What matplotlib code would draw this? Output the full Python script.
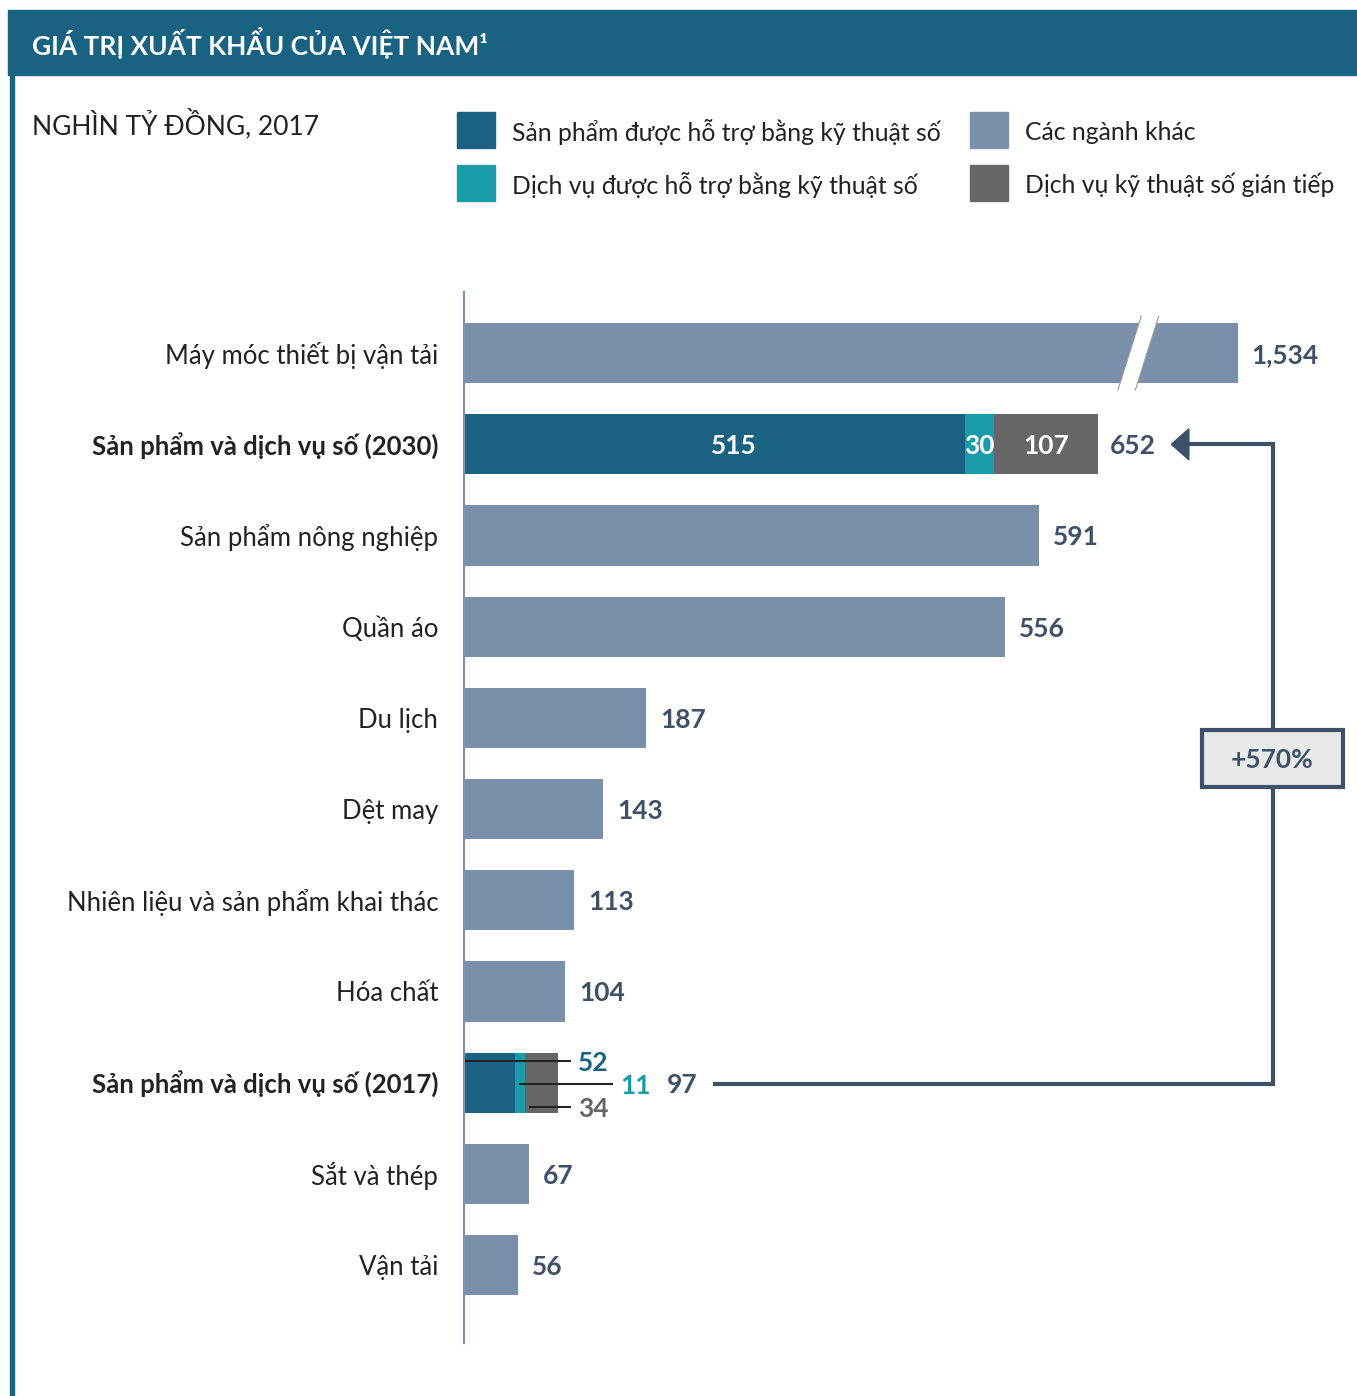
import matplotlib
matplotlib.use("Agg")
import matplotlib.pyplot as plt
from matplotlib.patches import Rectangle, Polygon

# ---------------- data ----------------
categories = ["Máy móc thiết bị vận tải", "Sản phẩm và dịch vụ số (2030)",
              "Sản phẩm nông nghiệp", "Quần áo", "Du lịch", "Dệt may",
              "Nhiên liệu và sản phẩm khai thác", "Hóa chất",
              "Sản phẩm và dịch vụ số (2017)", "Sắt và thép", "Vận tải"]
other_values = [1534, None, 591, 556, 187, 143, 113, 104, None, 67, 56]
digital_rows = ["Sản phẩm và dịch vụ số (2030)", "Sản phẩm và dịch vụ số (2017)"]
digital_products = [515, 52]
digital_services = [30, 11]
digital_indirect = [107, 34]
growth_label = "+570%"
legend_labels = ["Sản phẩm được hỗ trợ bằng kỹ thuật số", "Dịch vụ được hỗ trợ bằng kỹ thuật số",
                 "Các ngành khác", "Dịch vụ kỹ thuật số gián tiếp"]
title = "GIÁ TRỊ XUẤT KHẨU CỦA VIỆT NAM¹"
unit_label = "NGHÌN TỶ ĐỒNG, 2017"
break_display = 795  # displayed length of the broken (too long) bar

# ---------------- style ----------------
DARK = "#1a6282"
TEAL = "#1a9ba8"
OTHER = "#7a90aa"
GREY = "#666666"
SLATE = "#3f5069"
TEXT = "#222222"
FONT = ["Lato", "DejaVu Sans"]
plt.rcParams["font.family"] = FONT

W, H = 1357, 1396
fig = plt.figure(figsize=(W / 100, H / 100), dpi=100)
fig.patch.set_facecolor("white")


def fx(px):
    return px / W


def fy(py):
    return 1 - py / H


# title bar and left rule
fig.patches.append(Rectangle((fx(8), fy(75)), fx(1357) - fx(8), 65 / H,
                             transform=fig.transFigure, color=DARK, zorder=0))
fig.patches.append(Rectangle((fx(10), 0), 4 / W, fy(75),
                             transform=fig.transFigure, color=DARK, zorder=0))
fig.text(fx(32), fy(43), title, color="white", fontsize=19, fontweight="bold",
         va="center", ha="left")
fig.text(fx(32), fy(124), unit_label, color=TEXT, fontsize=19, va="center", ha="left")

# legend
leg_colors = [DARK, TEAL, OTHER, GREY]
leg_pos = [(457, 130), (457, 183), (970, 130), (970, 183)]
for lab, col, (lx, ly) in zip(legend_labels, leg_colors, leg_pos):
    fig.patches.append(Rectangle((fx(lx), fy(ly + 18)), 38 / W, 36 / H,
                                 transform=fig.transFigure, color=col))
    fig.text(fx(lx + 55), fy(ly + 2), lab, color=TEXT, fontsize=17.8, va="center", ha="left")

# ---------------- axes ----------------
SCALE = 0.973  # px per unit
ax = fig.add_axes([fx(464), fy(1343), fx(1357) - fx(464), (1343 - 292) / H])
ax.set_xlim(0, (1357 - 464) / SCALE)
ax.set_ylim(10.855, -0.67)
for s in ["top", "right", "bottom"]:
    ax.spines[s].set_visible(False)
ax.spines["left"].set_color("#8093ab")
ax.spines["left"].set_linewidth(1.6)
ax.set_xticks([])
ax.set_yticks(range(len(categories)))
ax.set_yticklabels(categories)
ax.tick_params(axis="y", length=0, pad=18.5, labelsize=18.5, labelcolor=TEXT)
for t in ax.get_yticklabels():
    t.set_verticalalignment("center_baseline")
    if t.get_text() in digital_rows:
        t.set_fontweight("bold")

BH = 0.66
val_kw = dict(fontsize=19, fontweight="bold", va="center_baseline")

for i, (cat, v) in enumerate(zip(categories, other_values)):
    if v is None:
        continue
    disp = min(v, break_display)
    ax.barh(i, disp, height=BH, color=OTHER, zorder=2)
    ax.annotate(f"{v:,}", xy=(disp, i), xytext=(10, 0), textcoords="offset points",
                color=SLATE, ha="left", **val_kw)
    if v > break_display:
        x0, x1 = 672, 690
        dx = 24
        yb, yt = 0.405, -0.405
        ax.add_patch(Polygon([(x0, yb), (x1, yb), (x1 + dx, yt), (x0 + dx, yt)],
                             closed=True, facecolor="white", edgecolor="none", zorder=3))
        ax.plot([x0, x0 + dx], [yb, yt], color="#999999", lw=0.8, zorder=4)
        ax.plot([x1, x1 + dx], [yb, yt], color="#999999", lw=0.8, zorder=4)

# digital rows
for k, cat in enumerate(digital_rows):
    i = categories.index(cat)
    p, s, d = digital_products[k], digital_services[k], digital_indirect[k]
    ax.barh(i, p, height=BH, color=DARK, zorder=2)
    ax.barh(i, s, left=p, height=BH, color=TEAL, zorder=2)
    ax.barh(i, d, left=p + s, height=BH, color=GREY, zorder=2)
    total = p + s + d
    if k == 0:
        ax.text(p / 2 + 20, i, f"{p}", color="white", ha="center", **val_kw)
        ax.text(p + s / 2, i, f"{s}", color="white", ha="center", **val_kw)
        ax.text(p + s + d / 2, i, f"{d}", color="white", ha="center", **val_kw)
        ax.annotate(f"{total}", xy=(total, i), xytext=(8, 0), textcoords="offset points",
                    color=SLATE, ha="left", **val_kw)
        y2030 = i
    else:
        y2017 = i
        # leader lines
        ax.plot([2, 109], [i - 0.24, i - 0.24], color=TEXT, lw=1.5, zorder=5)
        ax.text(117, i - 0.24, f"{p}", color=DARK, ha="left", **val_kw)
        ax.plot([p + s / 2, 152], [i + 0.02, i + 0.02], color=TEXT, lw=1.5, zorder=5)
        ax.text(161, i + 0.02, f"{s}", color=TEAL, ha="left", **val_kw)
        ax.plot([p + s + 5, 109], [i + 0.27, i + 0.27], color=TEXT, lw=1.5, zorder=5)
        ax.text(117, i + 0.27, f"{d}", color=GREY, ha="left", **val_kw)
        ax.text(209, i + 0.0, f"{total}", color=SLATE, ha="left", **val_kw)

# connector with arrow
xr = 831
ax.plot([258, xr, xr, 742], [y2017 + 0.02, y2017 + 0.02, y2030, y2030],
        color=SLATE, lw=3, solid_joinstyle="miter", zorder=3, clip_on=False)
ax.add_patch(Polygon([(727, y2030), (745, y2030 - 0.17), (745, y2030 + 0.17)],
                     closed=True, color=SLATE, zorder=4, clip_on=False))
ax.add_patch(Rectangle((758.5, 4.13), 145, 0.63, facecolor="#e8eaea",
                       edgecolor=SLATE, lw=3, zorder=5, clip_on=False))
ax.text(xr, 4.445, growth_label, color=SLATE, fontsize=19, fontweight="bold",
        ha="center", va="center_baseline", zorder=6)

fig.savefig("out.png", dpi=100)
